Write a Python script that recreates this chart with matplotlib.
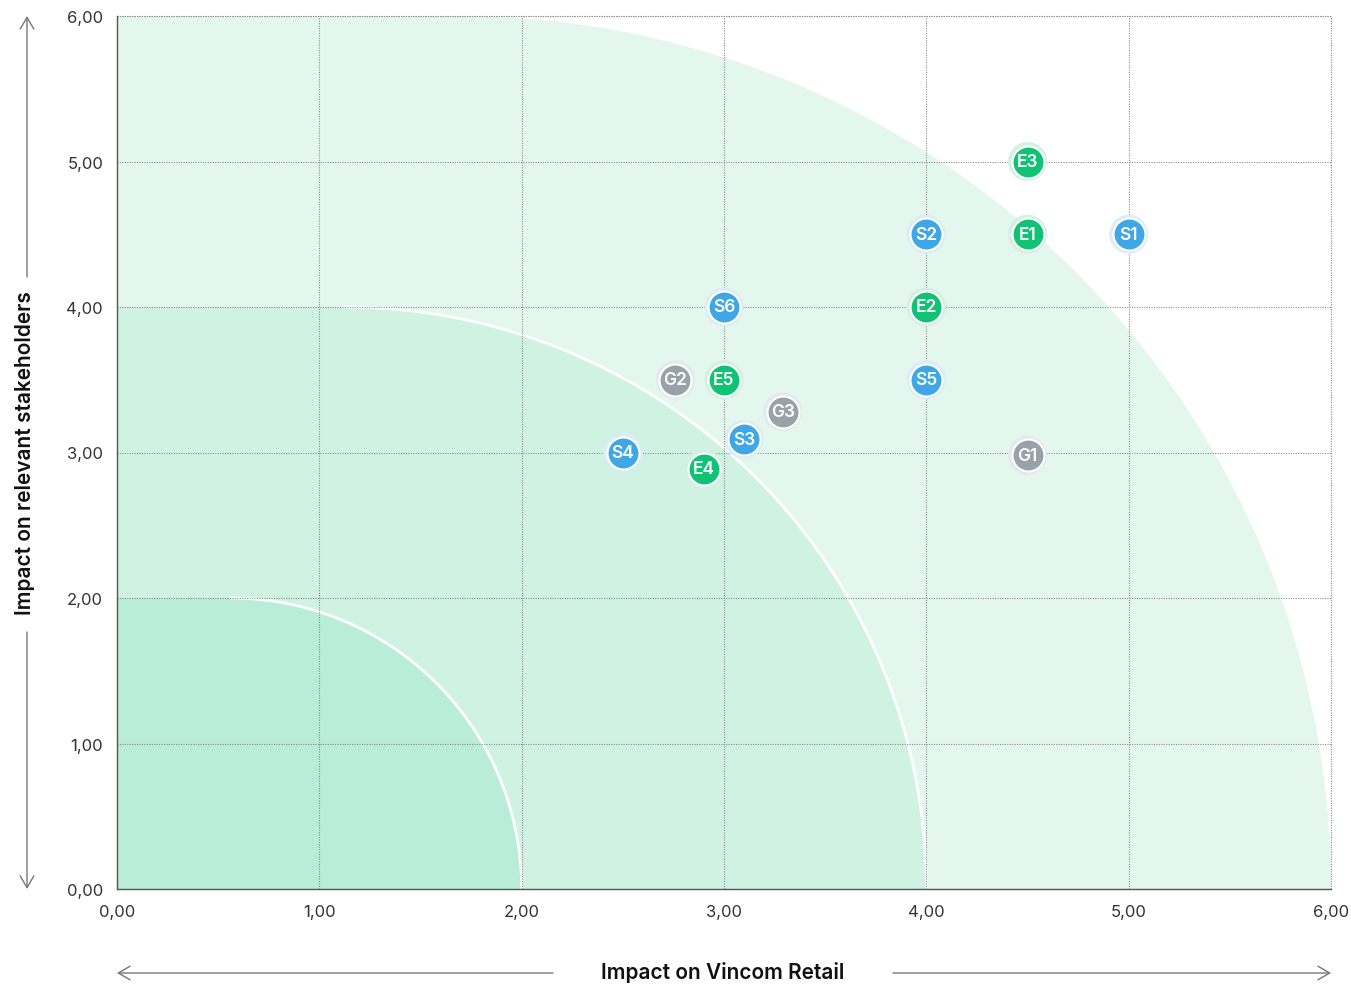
import numpy as np
import matplotlib
matplotlib.use("Agg")
import matplotlib.pyplot as plt
from matplotlib.patches import Polygon, FancyArrowPatch
from matplotlib.ticker import FuncFormatter, MultipleLocator

plt.rcParams['font.family'] = ['Inter', 'DejaVu Sans']

# ---- data ----
env_labels = ["E1", "E2", "E3", "E4", "E5"]
env_x = [4.5, 4.0, 4.5, 2.9, 3.0]
env_y = [4.5, 4.0, 5.0, 2.89, 3.5]

soc_labels = ["S1", "S2", "S3", "S4", "S5", "S6"]
soc_x = [5.0, 4.0, 3.1, 2.5, 4.0, 3.0]
soc_y = [4.5, 4.5, 3.09, 3.0, 3.5, 4.0]

gov_labels = ["G1", "G2", "G3"]
gov_x = [4.5, 2.76, 3.29]
gov_y = [2.98, 3.5, 3.28]

zone_sizes = [6, 4, 2]
zone_colors = ["#e4f7ee", "#cff2e3", "#b9edd9"]

x_label = "Impact on Vincom Retail"
y_label = "Impact on relevant stakeholders"

# ---- figure ----
W, H = 1351, 987
fig = plt.figure(figsize=(W / 100, H / 100), dpi=100)
ax = fig.add_axes([117 / W, (H - 890) / H, (1331 - 117) / W, (890 - 17) / H])
ax.set_xlim(0, 6)
ax.set_ylim(0, 6)

# pixel-per-unit ratio, so the corner is circular on screen
ppu_x = (1331 - 117) / 6
ppu_y = (890 - 17) / 6
ratio = ppu_y / ppu_x

for i, (size, col) in enumerate(zip(zone_sizes, zone_colors)):
    x0 = size * (1 - ratio)
    rx = size - x0
    ry = size
    t = np.linspace(np.pi / 2, 0, 200)
    ax_arc = x0 + rx * np.cos(t)
    ay_arc = ry * np.sin(t)
    pts = [(0, 0), (0, size)] + list(zip(ax_arc, ay_arc)) + [(size, 0)]
    ax.add_patch(Polygon(pts, closed=True, facecolor=col, edgecolor='none', zorder=1))
    if i > 0:
        ax.plot(ax_arc, ay_arc, color='white', lw=2, zorder=2, solid_capstyle='round')

# grid
ax.set_axisbelow(False)
ax.xaxis.set_major_locator(MultipleLocator(1))
ax.yaxis.set_major_locator(MultipleLocator(1))
ax.grid(True, color='#8a8f8d', linestyle=(0, (1, 1.2)), linewidth=0.8, zorder=3)

for side in ['top', 'right']:
    ax.spines[side].set_visible(False)
ax.plot([0, 6], [6, 6], color='#8a8f8d', linestyle=(0, (1, 1.2)), lw=0.8, zorder=3, clip_on=False)
ax.plot([6, 6], [0, 6], color='#8a8f8d', linestyle=(0, (1, 1.2)), lw=0.8, zorder=3, clip_on=False)
for side in ['left', 'bottom']:
    ax.spines[side].set_color('#555555')
    ax.spines[side].set_linewidth(1.0)
    ax.spines[side].set_zorder(4)

fmt = FuncFormatter(lambda v, p: f"{v:.2f}".replace('.', ','))
ax.xaxis.set_major_formatter(fmt)
ax.yaxis.set_major_formatter(fmt)
ax.tick_params(length=0, labelsize=12, colors='#333333')
ax.tick_params(axis='x', pad=11)
ax.tick_params(axis='y', pad=10)

# points
def draw(xs, ys, labels, color, halo):
    ax.scatter(xs, ys, s=28**2, color=halo, edgecolors='none', zorder=5, clip_on=False)
    ax.scatter(xs, ys, s=23**2, color=color, edgecolors='white', linewidths=1.5, zorder=6, clip_on=False)
    for x, y, l in zip(xs, ys, labels):
        ax.text(x, y, l, color='white', ha='center', va='center', fontsize=12.5,
                fontweight='semibold', zorder=7)

draw(env_x, env_y, env_labels, '#10c274', '#d2f1e3')
draw(soc_x, soc_y, soc_labels, '#3fa7e5', '#dcecf8')
draw(gov_x, gov_y, gov_labels, '#97a3a9', '#e4e9eb')

# axis titles with arrows
fig.text(723 / W, 1 - 973 / H, x_label, ha='center', va='center', fontsize=15,
         fontweight='semibold', color='#111111')
fig.text(25 / W, 1 - 453 / H, y_label, ha='center', va='center', fontsize=15,
         fontweight='semibold', color='#111111', rotation=90)

arrow_kw = dict(arrowstyle='->,head_length=0.6,head_width=0.35', color='#777777', lw=1.0,
                shrinkA=0, shrinkB=0, mutation_scale=14)
for (xa, ya), (xb, yb) in [((553, 974), (117, 974)), ((893, 974), (1331, 974)),
                           ((27, 278), (27, 17)), ((27, 633), (27, 890))]:
    fig.add_artist(FancyArrowPatch((xa / W, 1 - ya / H), (xb / W, 1 - yb / H),
                                   transform=fig.transFigure, **arrow_kw))

fig.savefig('out.png', dpi=100, facecolor='white')
